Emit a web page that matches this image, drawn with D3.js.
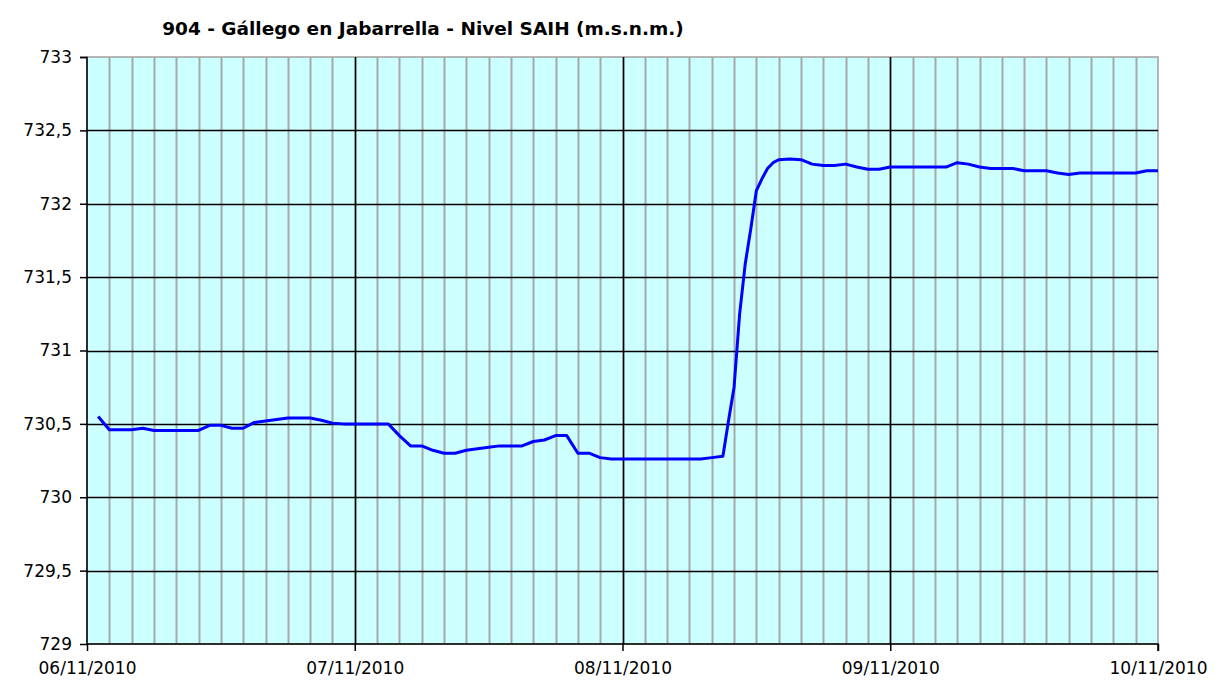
<!DOCTYPE html>
<html>
<head>
<meta charset="utf-8">
<script src="https://cdn.jsdelivr.net/npm/d3@7"></script>
<style>
  body { margin: 0; background: #fff; }
  text { font-family: "DejaVu Sans", Verdana, sans-serif; fill: #000; }
  .title { font-weight: bold; font-size: 18.5px; }
  .axis text { font-size: 17px; }
</style>
</head>
<body>
<svg width="1228" height="684"></svg>
<script>
  const title = '904 - Gállego en Jabarrella - Nivel SAIH (m.s.n.m.)';

  // readings: time stamp + level (m.s.n.m.)
  const times = [
    '06/11/2010 01:00', '06/11/2010 02:00', '06/11/2010 03:00', '06/11/2010 04:00',
    '06/11/2010 05:00', '06/11/2010 06:00', '06/11/2010 07:00', '06/11/2010 08:00',
    '06/11/2010 09:00', '06/11/2010 10:00', '06/11/2010 11:00', '06/11/2010 12:00',
    '06/11/2010 13:00', '06/11/2010 14:00', '06/11/2010 15:00', '06/11/2010 16:00',
    '06/11/2010 17:00', '06/11/2010 18:00', '06/11/2010 19:00', '06/11/2010 20:00',
    '06/11/2010 21:00', '06/11/2010 22:00', '06/11/2010 23:00', '07/11/2010 00:00',
    '07/11/2010 01:00', '07/11/2010 02:00', '07/11/2010 03:00', '07/11/2010 04:00',
    '07/11/2010 05:00', '07/11/2010 06:00', '07/11/2010 07:00', '07/11/2010 08:00',
    '07/11/2010 09:00', '07/11/2010 10:00', '07/11/2010 11:00', '07/11/2010 12:00',
    '07/11/2010 13:00', '07/11/2010 14:00', '07/11/2010 15:00', '07/11/2010 16:00',
    '07/11/2010 17:00', '07/11/2010 18:00', '07/11/2010 19:00', '07/11/2010 20:00',
    '07/11/2010 21:00', '07/11/2010 22:00', '07/11/2010 23:00', '08/11/2010 00:00',
    '08/11/2010 01:00', '08/11/2010 02:00', '08/11/2010 03:00', '08/11/2010 04:00',
    '08/11/2010 05:00', '08/11/2010 06:00', '08/11/2010 07:00', '08/11/2010 08:00',
    '08/11/2010 09:00', '08/11/2010 09:30', '08/11/2010 10:00', '08/11/2010 10:30',
    '08/11/2010 11:00', '08/11/2010 11:30', '08/11/2010 12:00', '08/11/2010 12:30',
    '08/11/2010 13:00', '08/11/2010 13:30', '08/11/2010 14:00', '08/11/2010 15:00',
    '08/11/2010 16:00', '08/11/2010 17:00', '08/11/2010 18:00', '08/11/2010 19:00',
    '08/11/2010 20:00', '08/11/2010 21:00', '08/11/2010 22:00', '08/11/2010 23:00',
    '09/11/2010 00:00', '09/11/2010 01:00', '09/11/2010 02:00', '09/11/2010 03:00',
    '09/11/2010 04:00', '09/11/2010 05:00', '09/11/2010 06:00', '09/11/2010 07:00',
    '09/11/2010 08:00', '09/11/2010 09:00', '09/11/2010 10:00', '09/11/2010 11:00',
    '09/11/2010 12:00', '09/11/2010 13:00', '09/11/2010 14:00', '09/11/2010 15:00',
    '09/11/2010 16:00', '09/11/2010 17:00', '09/11/2010 18:00', '09/11/2010 19:00',
    '09/11/2010 20:00', '09/11/2010 21:00', '09/11/2010 22:00', '09/11/2010 23:00',
    '10/11/2010 00:00'
  ];
  const levels = [
    730.55, 730.46, 730.46, 730.46,
    730.47, 730.455, 730.455, 730.455,
    730.455, 730.455, 730.49, 730.49,
    730.47, 730.47, 730.51, 730.52,
    730.53, 730.54, 730.54, 730.54,
    730.525, 730.505, 730.50, 730.50,
    730.50, 730.50, 730.50, 730.42,
    730.35, 730.35, 730.32, 730.30,
    730.30, 730.32, 730.33, 730.34,
    730.35, 730.35, 730.35, 730.38,
    730.39, 730.42, 730.42, 730.30,
    730.30, 730.27, 730.26, 730.26,
    730.26, 730.26, 730.26, 730.26,
    730.26, 730.26, 730.26, 730.27,
    730.28, 730.52, 730.75, 731.25,
    731.59, 731.83, 732.09, 732.17,
    732.24, 732.28, 732.30, 732.305,
    732.30, 732.27, 732.26, 732.26,
    732.27, 732.25, 732.235, 732.235,
    732.25, 732.25, 732.25, 732.25,
    732.25, 732.25, 732.28, 732.27,
    732.25, 732.24, 732.24, 732.24,
    732.225, 732.225, 732.225, 732.21,
    732.20, 732.21, 732.21, 732.21,
    732.21, 732.21, 732.21, 732.225,
    732.225
  ];

  const xStart = '06/11/2010 00:00';
  const xEnd = '10/11/2010 00:00';
  const yTicks = [729, 729.5, 730, 730.5, 731, 731.5, 732, 732.5, 733];

  const parse = d3.utcParse('%d/%m/%Y %H:%M');
  const data = times.map((t, i) => ({ date: parse(t), value: levels[i] }));

  const es = d3.formatLocale({ decimal: ',', thousands: '.', grouping: [3], currency: ['', ' €'] });
  const fmtY = (d) => (d % 1 === 0 ? d3.format('d')(d) : es.format('.1f')(d));

  const svg = d3.select('svg');
  const margin = { top: 57, right: 70, bottom: 40, left: 87 };
  const width = 1228 - margin.left - margin.right;
  const height = 684 - margin.top - margin.bottom;

  const chart = svg.append('g')
    .attr('transform', `translate(${margin.left}, ${margin.top})`);

  const xScale = d3.scaleUtc()
    .domain([parse(xStart), parse(xEnd)])
    .range([0, width]);

  const yScale = d3.scaleLinear()
    .domain([729, 733])
    .range([height, 0]);

  svg.append('text')
    .attr('class', 'title')
    .attr('x', 423)
    .attr('y', 35)
    .attr('text-anchor', 'middle')
    .text(title);

  // plot background + gray frame
  chart.append('rect')
    .attr('width', width)
    .attr('height', height)
    .attr('fill', '#ccffff')
    .attr('stroke', '#a0a0a0')
    .attr('stroke-width', 1.5);

  // minor vertical grid, every 2 hours
  chart.append('g')
    .selectAll('line')
    .data(d3.utcHour.every(2).range(xScale.domain()[0], xScale.domain()[1]).slice(1))
    .enter()
    .append('line')
    .attr('x1', (d) => Math.round(xScale(d)) + 0.5)
    .attr('x2', (d) => Math.round(xScale(d)) + 0.5)
    .attr('y1', 0)
    .attr('y2', height)
    .attr('stroke', '#a8a8a8')
    .attr('stroke-width', 2);

  // major vertical grid, each day
  chart.append('g')
    .selectAll('line')
    .data(d3.utcDay.range(xScale.domain()[0], xScale.domain()[1]).slice(1))
    .enter()
    .append('line')
    .attr('x1', (d) => Math.round(xScale(d)) + 0.5)
    .attr('x2', (d) => Math.round(xScale(d)) + 0.5)
    .attr('y1', 0)
    .attr('y2', height)
    .attr('stroke', '#000')
    .attr('stroke-width', 1.5);

  // horizontal grid
  chart.append('g')
    .selectAll('line')
    .data(yTicks.slice(1, -1))
    .enter()
    .append('line')
    .attr('x1', 0)
    .attr('x2', width)
    .attr('y1', (d) => Math.round(yScale(d)) + 0.5)
    .attr('y2', (d) => Math.round(yScale(d)) + 0.5)
    .attr('stroke', '#000')
    .attr('stroke-width', 1.5);

  const line = d3.line()
    .x((d) => xScale(d.date))
    .y((d) => yScale(d.value));

  chart.append('path')
    .datum(data)
    .attr('fill', 'none')
    .attr('stroke', '#0000ff')
    .attr('stroke-width', 3)
    .attr('stroke-linejoin', 'round')
    .attr('d', line);

  const yAxis = chart.append('g')
    .attr('class', 'axis')
    .call(d3.axisLeft(yScale)
      .tickValues(yTicks)
      .tickSize(7)
      .tickPadding(8)
      .tickFormat(fmtY));

  const xAxis = chart.append('g')
    .attr('class', 'axis')
    .attr('transform', `translate(0, ${height})`)
    .call(d3.axisBottom(xScale)
      .ticks(d3.utcDay.every(1))
      .tickSize(7)
      .tickPadding(11)
      .tickFormat(d3.utcFormat('%d/%m/%Y')));

  [yAxis, xAxis].forEach((a) => {
    a.selectAll('.domain').attr('stroke', '#000').attr('stroke-width', 1.5);
    a.selectAll('.tick line').attr('stroke', '#000').attr('stroke-width', 1.5);
  });
  yAxis.select('.domain').attr('d', `M-7,0.5H0V${height}`);
  xAxis.select('.domain').attr('d', `M0,0H${width}V7`);
</script>
</body>
</html>
